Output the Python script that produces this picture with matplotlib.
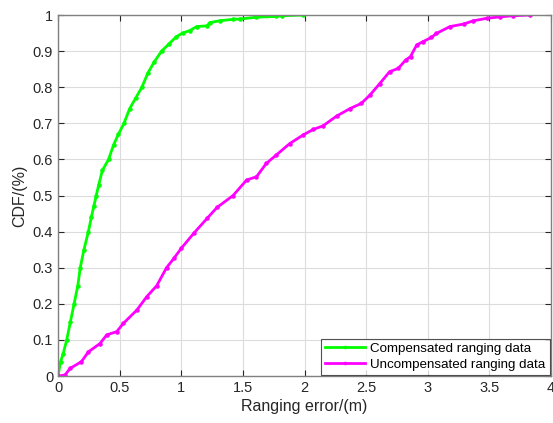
import matplotlib
matplotlib.use("Agg")
import matplotlib.pyplot as plt
from matplotlib.ticker import FuncFormatter

# Compensated ranging data (error in m, CDF)
comp_x = [0.0, 0.02, 0.04, 0.07, 0.10, 0.13, 0.16, 0.18, 0.21, 0.246, 0.27, 0.29, 0.31, 0.33,
          0.36, 0.41, 0.45, 0.49, 0.535, 0.58, 0.63, 0.68, 0.73, 0.78, 0.84, 0.90, 0.96, 1.01,
          1.07, 1.125, 1.21, 1.23, 1.31, 1.42, 1.48, 1.61, 1.77, 1.82, 1.99]
comp_y = [0.0, 0.04, 0.06, 0.10, 0.15, 0.20, 0.25, 0.30, 0.35, 0.40, 0.44, 0.47, 0.50, 0.53,
          0.57, 0.60, 0.64, 0.67, 0.70, 0.74, 0.77, 0.80, 0.84, 0.87, 0.90, 0.92, 0.94, 0.95,
          0.957, 0.968, 0.970, 0.979, 0.984, 0.988, 0.989, 0.994, 0.996, 0.998, 1.0]

# Uncompensated ranging data (error in m, CDF)
unc_x = [0.0, 0.057, 0.097, 0.19, 0.246, 0.34, 0.395, 0.476, 0.53, 0.64, 0.72, 0.80, 0.88,
         0.94, 1.0, 1.10, 1.21, 1.29, 1.42, 1.53, 1.61, 1.69, 1.77, 1.88, 1.99, 2.07, 2.15,
         2.26, 2.37, 2.46, 2.53, 2.61, 2.69, 2.76, 2.82, 2.86, 2.91, 2.96, 3.03, 3.07, 3.18,
         3.29, 3.37, 3.48, 3.59, 3.69, 3.83]
unc_y = [0.0, 0.003, 0.021, 0.04, 0.067, 0.09, 0.114, 0.123, 0.146, 0.183, 0.22, 0.25, 0.30,
         0.326, 0.354, 0.395, 0.437, 0.467, 0.50, 0.543, 0.552, 0.589, 0.612, 0.644, 0.668,
         0.683, 0.693, 0.720, 0.741, 0.755, 0.778, 0.81, 0.843, 0.852, 0.875, 0.885, 0.917,
         0.926, 0.938, 0.949, 0.968, 0.975, 0.984, 0.991, 0.995, 0.998, 1.0]

x_ticks = [0, 0.5, 1, 1.5, 2, 2.5, 3, 3.5, 4]
y_ticks = [0, 0.1, 0.2, 0.3, 0.4, 0.5, 0.6, 0.7, 0.8, 0.9, 1.0]

plt.rcParams['font.family'] = ['Liberation Sans', 'DejaVu Sans']

fig = plt.figure(figsize=(5.53, 4.23), dpi=100)
ax = fig.add_axes([0.105, 0.111, 0.8914, 0.8535])

ax.plot(comp_x, comp_y, color='#00ff00', lw=2.0, marker='.', ms=4.5,
        label='Compensated ranging data')
ax.plot(unc_x, unc_y, color='#ff00ff', lw=2.0, marker='.', ms=4.5,
        label='Uncompensated ranging data')

ax.set_xlim(0, 4)
ax.set_ylim(0, 1)
ax.set_xticks(x_ticks)
ax.set_yticks(y_ticks)
fmt = FuncFormatter(lambda v, p: ('%g' % v))
ax.xaxis.set_major_formatter(fmt)
ax.yaxis.set_major_formatter(fmt)
ax.grid(True, color='#dcdcdc', lw=0.8)
ax.set_axisbelow(True)
ax.tick_params(direction='in', top=True, right=True, length=4, labelsize=10.5,
               colors='#262626', width=0.8)
for s in ax.spines.values():
    s.set_color('#808080')
    s.set_linewidth(1.0)

ax.set_xlabel('Ranging error/(m)', fontsize=11.5, color='#262626', labelpad=3)
ax.set_ylabel('CDF/(%)', fontsize=11.5, color='#262626', labelpad=4)

leg = ax.legend(loc='lower right', fontsize=9.6, frameon=True, fancybox=False,
                borderaxespad=0.1, handlelength=3.0, borderpad=0.3, labelspacing=0.25,
                handletextpad=0.4, markerscale=0.7)
leg.get_frame().set_edgecolor('#262626')
leg.get_frame().set_linewidth(0.8)

fig.savefig('out.png', dpi=100)
